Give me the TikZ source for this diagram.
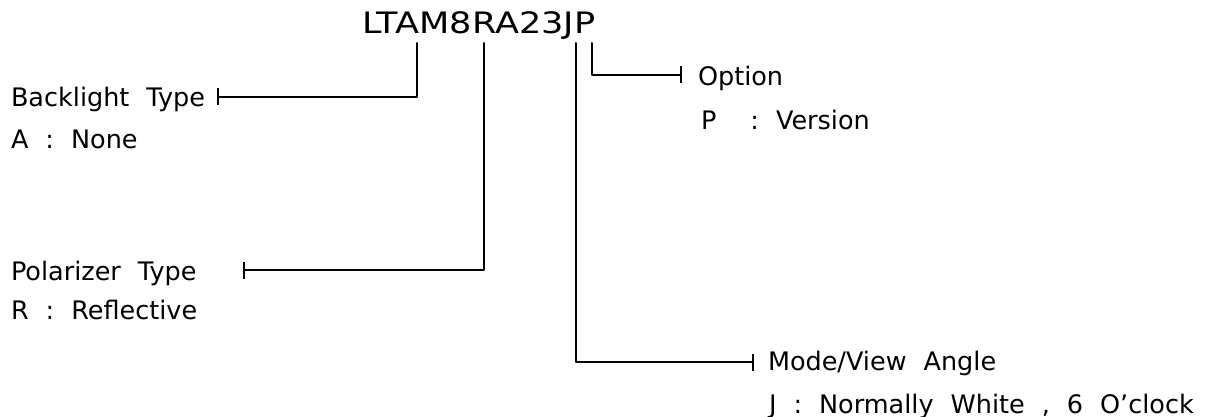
\documentclass[tikz,border=0pt]{standalone}
\usepackage{fontspec}
\setmainfont{DejaVu Sans}[WordSpace=2.1]
\usetikzlibrary{arrows.meta}
\begin{document}
\begin{tikzpicture}[x=1pt,y=-1pt,line join=round,line cap=round,line width=2pt]
	\tikzset{every node/.style={inner sep=0pt},
		lbl/.style={anchor=base west,font=\fontsize{25.5}{30}\selectfont},
		tap/.style={-{Bar[width=17pt,line width=1.8pt]}}}
	\useasboundingbox (0,0) rectangle (1231,417);
	\node[anchor=base west,font=\fontsize{29.5}{34}\selectfont,xscale=1.19] (code) at (361,34) {LTAM8RA23JP};
	% labels
	\node[lbl] (bl) at (10,107) {Backlight Type};
	\node[lbl] (bla) at (10,148) {A : None};
	\node[lbl] (pol) at (10,280) {Polarizer Type};
	\node[lbl] (polr) at (10,319) {R : Reflective};
	\node[lbl] (opt) at (697,86) {Option};
	\node[lbl] (optp) at (700,130) {P\ \ : Version};
	\node[lbl] (mode) at (767,370) {Mode/View Angle};
	\node[lbl] (modej) at (768,413) {J : Normally White , 6 O’clock};
	% taps under the letters and bar ends
	\coordinate (tA) at (417,43);  \coordinate (eA) at (217,97);
	\coordinate (tR) at (484,43);  \coordinate (eR) at (243,270);
	\coordinate (tJ) at (576,43);  \coordinate (eJ) at (754,362);
	\coordinate (tP) at (592,43);  \coordinate (eP) at (682,75);
	\foreach \t/\e in {tA/eA, tR/eR, tJ/eJ, tP/eP}
	\draw[tap] (\t) |- (\e);
\end{tikzpicture}
\end{document}
